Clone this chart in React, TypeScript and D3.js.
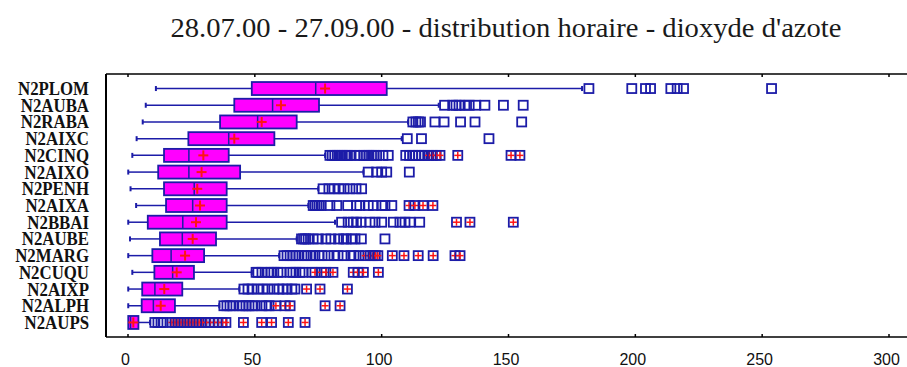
import React from 'react';
import * as d3 from 'd3';

const title = "28.07.00 - 27.09.00 - distribution horaire - dioxyde d'azote";
const categories = ['N2PLOM', 'N2AUBA', 'N2RABA', 'N2AIXC', 'N2CINQ', 'N2AIXO', 'N2PENH', 'N2AIXA', 'N2BBAI', 'N2AUBE', 'N2MARG', 'N2CUQU', 'N2AIXP', 'N2ALPH', 'N2AUPS'];
const whiskerLow = [11, 7, 5.8, 3.4, 1.7, 0.1, 1, 3.2, 0.1, 0.8, 0.1, 1.7, 0.1, 0.1, 0.1];
const q1 = [48.8, 41.9, 36.3, 23.8, 14.2, 11.9, 14.2, 15, 7.8, 12.6, 9.6, 10.4, 5.6, 5.4, 0.1];
const median = [74, 57, 51.1, 39.7, 24, 24, 26.1, 25.5, 21.6, 21.4, 17, 17.6, 10.6, 10, 1];
const mean = [77.7, 60.3, 52.7, 41.9, 29.7, 29, 27.3, 28.4, 26.8, 25.5, 22.5, 19.2, 14.3, 12.9, 2.1];
const q3 = [102, 75.3, 66.5, 57.7, 39.7, 44.2, 38.9, 38.9, 38.9, 34.7, 30, 26, 21.4, 18.5, 4.1];
const whiskerHigh = [179, 122.5, 110.4, 107.9, 77.7, 92.8, 75, 71.1, 81.6, 66.5, 59.6, 48.8, 43.9, 36, 8.7];
const outside: number[][] = [
  [181.7, 198.6, 204, 206, 214, 216.5, 219, 253.7],
  [124.8, 128, 129.3, 130.5, 132.8, 134.5, 137, 140.7, 148, 155.8],
  [112.3, 113.5, 114.5, 115.3, 121, 124.6, 131.1, 136.8, 155.2],
  [110.1, 115.7, 142.3],
  [79.6, 80.5, 81.5, 82.5, 83.5, 84.5, 85.5, 86.5, 87.5, 89.5, 91.5, 93, 94, 95, 96, 97, 98, 100.5, 102.6, 109.5, 111, 112.2, 113.4, 114.6, 115.8, 117],
  [94.7, 98, 100, 102, 110.9],
  [76.9, 79.2, 81.2, 83.2, 85.2, 87.5, 89.9, 92.1],
  [73, 73.7, 74.5, 75.3, 76.1, 79.6, 82.3, 86.6, 90.1, 91.4, 94.7, 96.7, 100, 101.3, 104],
  [84.2, 86.8, 88.8, 90.1, 91.8, 95.4, 97.4, 100, 104.6, 107.2, 109.2, 111.2, 115],
  [68.4, 69.2, 70, 71, 73, 75, 78, 80, 83, 85, 86, 88, 89.5, 92, 101.3],
  [61.5, 62.7, 63.9, 65, 66.2, 67.4, 69.4, 70.6, 72.1, 73.7, 75.3, 76.5, 78.8, 81.2, 82.8, 85.1, 87.9, 89.1, 91],
  [50.5, 51.2, 52.8, 55.2, 56.4, 57.5, 59.1, 60.3, 63.9, 65, 66.2, 67.8, 69, 72.5],
  [45.7, 47.3, 48.9, 51.2, 53.2, 55.2, 57.5, 59.5, 61.1, 62.7, 64.6, 65.8],
  [37.8, 39, 40.2, 41.4, 44.1, 45.3, 46.5, 47.7, 48.9, 50.1, 52.8, 54.4, 55.6],
  [10.6, 11.8, 13, 13.8],
];
const farOutside: number[][] = [
  [],
  [],
  [],
  [],
  [118.5, 120, 121.5, 123, 130, 151, 154.5],
  [],
  [],
  [110.8, 113.1, 116.3, 120.2],
  [129.5, 134.8, 151.9],
  [],
  [93.5, 95.5, 96.5, 97.5, 98.5, 104.2, 108.8, 114.4, 120.3, 128.9, 130.9],
  [73.7, 76.3, 78, 80.8, 88.8, 90.7, 92.8, 98.7],
  [70.4, 75.7, 86.5],
  [58.3, 61.9, 63.9, 77.7, 83.6],
  [17.3, 18.5, 19.7, 20.9, 22.1, 23.3, 24.4, 25.6, 26.8, 28, 29.2, 30.7, 32.3, 33.9, 35.5, 37.1, 38.6, 45.5, 52.7, 56.6, 63.2, 69.8],
];
const xTicks = [0, 50, 100, 150, 200, 250, 300];

const BLUE = '#1c1ca8';
const MAGENTA = '#ff00ff';
const RED = '#ff1414';

export default function App() {
  const width = 907;
  const height = 367;
  const plotLeft = 106;
  const plotTop = 74;
  const plotBottom = 337;
  const x = d3.scaleLinear().domain([0, 300]).range([128, 889]);
  const y = d3.scalePoint<string>().domain(categories).range([plotTop, plotBottom]).padding(0.87);
  const boxH = 13;
  const sq = 9;

  return (
    <svg width={width} height={height} style={{ position: 'absolute', left: 0, top: 0, background: '#fff' }}>
      <text x={506} y={37} textAnchor="middle" fontFamily="'Liberation Serif', serif" fontSize={28}
        textLength={671} lengthAdjust="spacingAndGlyphs" fill="#1a1a1a">{title}</text>

      {/* frame */}
      <line x1={plotLeft} x2={907} y1={plotTop} y2={plotTop} stroke="#000" strokeWidth={1.5} />
      <line x1={plotLeft} x2={907} y1={plotBottom} y2={plotBottom} stroke="#000" strokeWidth={1.5} />
      <line x1={plotLeft} x2={plotLeft} y1={plotTop} y2={plotBottom} stroke="#000" strokeWidth={2} />
      {xTicks.map((t) => (
        <g key={t}>
          <line x1={x(t)} x2={x(t)} y1={plotTop} y2={plotTop + 3} stroke="#000" strokeWidth={1.5} />
          <line x1={x(t)} x2={x(t)} y1={plotBottom} y2={plotBottom - 3} stroke="#000" strokeWidth={1.5} />
          <text x={x(t) - 2.5} y={365} textAnchor="middle" fontFamily="'Liberation Sans', sans-serif" fontSize={16} fill="#111">{t}</text>
        </g>
      ))}

      {categories.map((c, i) => {
        const cy = y(c) as number;
        return (
          <g key={c}>
            <text transform={`translate(89,${cy + 6.5}) scale(1.02,1.12)`} textAnchor="end"
              fontFamily="'Liberation Serif', serif" fontWeight="bold" fontSize={16.5} fill="#111">{c}</text>
            {/* whiskers */}
            {whiskerLow[i] < q1[i] && (
              <>
                <line x1={x(whiskerLow[i])} x2={x(q1[i])} y1={cy} y2={cy} stroke={BLUE} strokeWidth={1.5} />
                <line x1={x(whiskerLow[i])} x2={x(whiskerLow[i])} y1={cy - 2.5} y2={cy + 2.5} stroke={BLUE} strokeWidth={2} />
              </>
            )}
            <line x1={x(q3[i])} x2={x(whiskerHigh[i])} y1={cy} y2={cy} stroke={BLUE} strokeWidth={1.5} />
            <line x1={x(whiskerHigh[i])} x2={x(whiskerHigh[i])} y1={cy - 2.5} y2={cy + 2.5} stroke={BLUE} strokeWidth={2} />
            {/* box */}
            <rect x={x(q1[i])} y={cy - boxH / 2} width={x(q3[i]) - x(q1[i])} height={boxH}
              fill={MAGENTA} stroke={BLUE} strokeWidth={1.8} />
            <line x1={x(median[i])} x2={x(median[i])} y1={cy - boxH / 2} y2={cy + boxH / 2} stroke={BLUE} strokeWidth={1.5} />
            <line x1={x(mean[i]) - 5} x2={x(mean[i]) + 5} y1={cy} y2={cy} stroke={RED} strokeWidth={2} />
            <line x1={x(mean[i])} x2={x(mean[i])} y1={cy - 5} y2={cy + 5} stroke={RED} strokeWidth={2} />
            {/* outside points */}
            {outside[i].map((v, j) => (
              <rect key={'o' + j} x={x(v) - sq / 2} y={cy - sq / 2} width={sq} height={sq}
                fill="none" stroke={BLUE} strokeWidth={1.8} />
            ))}
            {farOutside[i].map((v, j) => (
              <g key={'f' + j}>
                <rect x={x(v) - sq / 2} y={cy - sq / 2} width={sq} height={sq}
                  fill="none" stroke={BLUE} strokeWidth={1.8} />
                <line x1={x(v) - sq / 2 + 1} x2={x(v) + sq / 2 - 1} y1={cy} y2={cy} stroke={RED} strokeWidth={1.5} />
                <line x1={x(v)} x2={x(v)} y1={cy - sq / 2 + 1} y2={cy + sq / 2 - 1} stroke={RED} strokeWidth={1.5} />
              </g>
            ))}
          </g>
        );
      })}
    </svg>
  );
}
